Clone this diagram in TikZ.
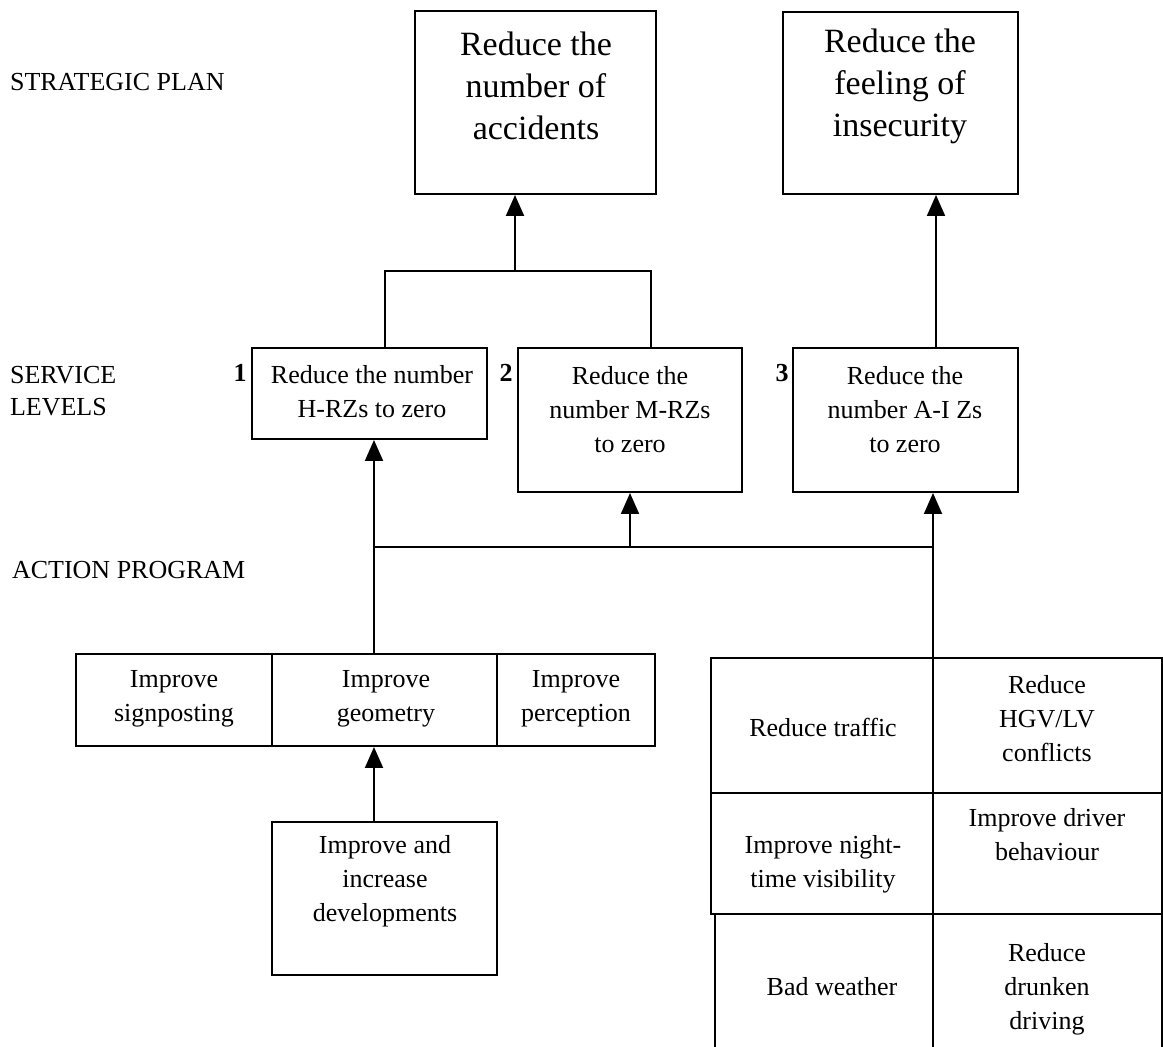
\documentclass[tikz,border=0pt]{standalone}
\usepackage{fontspec}
\setmainfont{Liberation Serif}
\usetikzlibrary{fit,arrows.meta}
\tikzset{
  box/.style={draw, line width=1pt, inner sep=0pt},
  txt/.style={align=center, font=\fontsize{13}{17}\selectfont},
  bigtxt/.style={align=center, font=\fontsize{17}{21}\selectfont},
  lbl/.style={anchor=west, align=left, font=\fontsize{13}{16}\selectfont},
  num/.style={font=\fontsize{13}{16}\selectfont\bfseries},
  link/.style={line width=1pt},
  arr/.style={link, -{Triangle[width=9pt,length=10.5pt]}}
}
\begin{document}
\begin{tikzpicture}[x=0.5pt, y=-0.5pt]
  \clip (0,0) rectangle (1163,1047);

  % level labels
  \node[lbl] (plan) at (3,82) {STRATEGIC PLAN};
  \node[lbl] (service) at (3,391) {SERVICE\\LEVELS};
  \node[lbl] (action) at (5,570) {ACTION PROGRAM};

  % strategic plan
  \node[box, fit={(415,11) (656,194)}] (acc) {};
  \node[bigtxt] (acc-t) at (536,86) {Reduce the\\number of\\accidents};
  \node[box, fit={(783,12) (1018,194)}] (insec) {};
  \node[bigtxt] (insec-t) at (900,86) {Reduce the\\feeling of\\insecurity};

  % service levels
  \node[box, fit={(252,348) (487,439)}] (lvl1) {};
  \node[txt] (lvl1-t) at (372,392) {Reduce the number\\H-RZs to zero};
  \node[box, fit={(518,348) (742,492)}] (lvl2) {};
  \node[txt] (lvl2-t) at (630,410) {Reduce the\\number M-RZs\\to zero};
  \node[box, fit={(793,348) (1018,492)}] (lvl3) {};
  \node[txt] (lvl3-t) at (905,410) {Reduce the\\number A-I Zs\\to zero};
  \node[num] (n1) at (240,373) {1};
  \node[num] (n2) at (506,373) {2};
  \node[num] (n3) at (782,373) {3};

  % action program, left
  \node[box, fit={(76,654) (272,746)}] (sign) {};
  \node[txt] (sign-t) at (174,699) {Improve\\signposting};
  \node[box, fit={(272,654) (497,746)}] (geom) {};
  \node[txt] (geom-t) at (386,699) {Improve\\geometry};
  \node[box, fit={(497,654) (655,746)}] (perc) {};
  \node[txt] (perc-t) at (576,699) {Improve\\perception};
  \node[box, fit={(272,822) (497,975)}] (devel) {};
  \node[txt] (devel-t) at (385,881) {Improve and\\increase\\developments};

  % action program, right
  \node[box, fit={(711,658) (933,793)}] (traffic) {};
  \node[txt] (traffic-t) at (823,727) {Reduce traffic};
  \node[box, fit={(933,658) (1162,793)}] (hgv) {};
  \node[txt] (hgv-t) at (1047,719) {Reduce\\HGV/LV\\conflicts};
  \node[box, fit={(711,793) (933,914)}] (night) {};
  \node[txt] (night-t) at (823,864) {Improve night-\\time visibility};
  \node[box, fit={(933,793) (1162,914)}] (driver) {};
  \node[txt] (driver-t) at (1047,835) {Improve driver\\behaviour};
  \node[box, fit={(715,914) (933,1090)}] (weather) {};
  \node[txt] (weather-t) at (832,987) {Bad weather};
  \node[box, fit={(933,914) (1162,1090)}] (drunk) {};
  \node[txt] (drunk-t) at (1047,989) {Reduce\\drunken\\driving};

  % connectors
  \coordinate (jl) at (385,271);
  \coordinate (jr) at (651,271);
  \coordinate (jm) at (515,271);
  \draw[link] (jl |- lvl1.north) -- (jl) -- (jr) -- (jr |- lvl2.north);
  \draw[arr] (jm) -- (jm |- acc.south);
  \coordinate (up3) at (936,348);
  \draw[arr] (up3) -- (up3 |- insec.south);

  \coordinate (hl) at (374,547);
  \coordinate (hr) at (933,547);
  \coordinate (h2) at (630,547);
  \coordinate (base) at (933,1047);
  \draw[link] (hl) -- (hr);
  \draw[arr] (h2) -- (h2 |- lvl2.south);
  \draw[arr] (base) -- (base |- lvl3.south);
  \draw[arr] (hl |- geom.north) -- (hl |- lvl1.south);
  \draw[arr] (hl |- devel.north) -- (hl |- geom.south);
\end{tikzpicture}
\end{document}
